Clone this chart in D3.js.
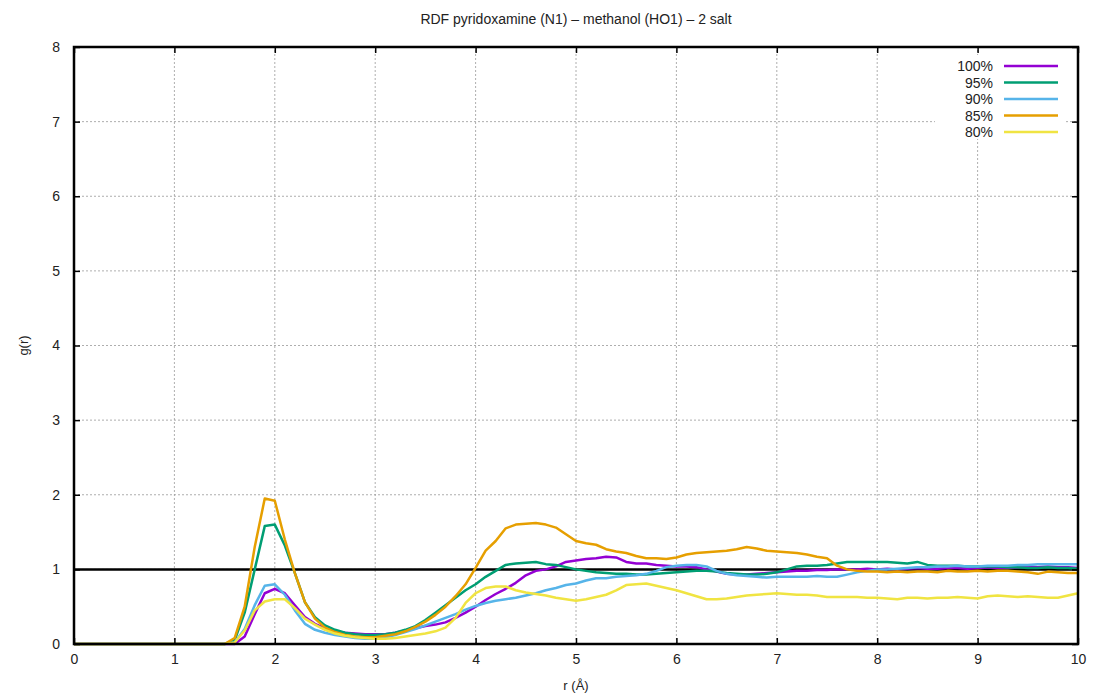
<!DOCTYPE html>
<html>
<head>
<meta charset="utf-8">
<script src="https://cdn.jsdelivr.net/npm/d3@7"></script>
<style>
  body { margin: 0; background: #fff; }
  text { font-family: "Liberation Sans", Arial, sans-serif; fill: #222; }
  .grid line { stroke: #999; stroke-width: 0.8; stroke-dasharray: 2 2; }
</style>
</head>
<body>
<script>
var width = 1094,
    height = 694;

var margin = {top: 47, right: 16, bottom: 50, left: 74};

// r grid (Å), 0.1 step
var rValues = d3.range(0, 101).map(function(i) { return i / 10; });

var labels = ["100%", "95%", "90%", "85%", "80%"];
var colors = ["#9400d3", "#009e73", "#56b4e9", "#e69f00", "#f0e442"];

var g100 = [0,0,0,0,0,0,0,0,0,0,0,0,0,0,0,0,
  0.0,0.1,0.4,0.68,0.74,0.68,0.52,0.36,0.27,0.21,0.17,0.15,0.14,0.13,0.13,
  0.13,0.15,0.18,0.21,0.24,0.26,0.29,0.35,0.42,0.5,
  0.59,0.67,0.74,0.82,0.92,0.98,1.0,1.04,1.1,1.12,
  1.14,1.15,1.17,1.16,1.1,1.08,1.08,1.06,1.05,1.04,
  1.04,1.03,1.0,0.97,0.94,0.93,0.93,0.94,0.95,0.96,
  0.97,0.98,0.98,0.99,0.99,1.0,1.0,1.0,1.01,1.0,
  1.01,1.0,1.01,1.02,1.01,1.01,1.02,1.02,1.01,1.02,
  1.03,1.02,1.02,1.03,1.04,1.03,1.04,1.03,1.03,1.02];

var g95 = [0,0,0,0,0,0,0,0,0,0,0,0,0,0,0,0,
  0.05,0.42,1.0,1.58,1.6,1.32,0.95,0.56,0.36,0.25,0.19,0.15,0.13,0.12,0.12,
  0.13,0.15,0.19,0.24,0.32,0.42,0.52,0.62,0.72,0.8,
  0.9,0.98,1.06,1.08,1.09,1.1,1.07,1.06,1.03,1.0,
  0.98,0.96,0.95,0.94,0.94,0.93,0.93,0.94,0.95,0.96,
  0.97,0.98,0.98,0.97,0.95,0.94,0.93,0.93,0.94,0.96,
  1.0,1.04,1.05,1.05,1.06,1.08,1.1,1.1,1.1,1.1,
  1.1,1.09,1.08,1.1,1.06,1.05,1.05,1.05,1.04,1.04,
  1.04,1.04,1.03,1.03,1.02,1.02,1.03,1.02,1.02,1.01];

var g90 = [0,0,0,0,0,0,0,0,0,0,0,0,0,0,0,0,
  0.02,0.2,0.52,0.78,0.8,0.66,0.45,0.27,0.19,0.15,0.12,0.1,0.08,0.07,0.07,
  0.09,0.12,0.16,0.2,0.25,0.3,0.35,0.4,0.46,0.51,
  0.55,0.58,0.6,0.62,0.65,0.68,0.72,0.75,0.79,0.81,
  0.85,0.88,0.88,0.9,0.91,0.92,0.94,0.98,1.03,1.05,
  1.06,1.06,1.04,0.98,0.94,0.92,0.91,0.9,0.89,0.9,
  0.9,0.9,0.9,0.91,0.9,0.9,0.93,0.96,0.98,1.0,
  1.0,1.01,1.02,1.03,1.03,1.04,1.04,1.05,1.04,1.04,
  1.05,1.05,1.05,1.06,1.06,1.07,1.07,1.07,1.07,1.07];

var g85 = [0,0,0,0,0,0,0,0,0,0,0,0,0,0,0,0,
  0.08,0.5,1.3,1.95,1.92,1.4,0.95,0.56,0.34,0.22,0.16,0.12,0.1,0.09,0.09,
  0.11,0.13,0.17,0.23,0.3,0.39,0.5,0.64,0.8,1.02,
  1.25,1.38,1.55,1.6,1.61,1.62,1.6,1.56,1.47,1.38,
  1.35,1.33,1.27,1.24,1.22,1.18,1.15,1.15,1.14,1.16,
  1.2,1.22,1.23,1.24,1.25,1.27,1.3,1.28,1.25,1.24,
  1.23,1.22,1.2,1.17,1.15,1.05,1.0,0.98,0.97,0.97,
  0.96,0.97,0.96,0.97,0.97,0.96,0.98,0.97,0.97,0.98,
  0.97,0.98,0.98,0.97,0.96,0.94,0.97,0.96,0.95,0.95];

var g80 = [0,0,0,0,0,0,0,0,0,0,0,0,0,0,0,0,
  0.02,0.18,0.45,0.57,0.6,0.6,0.48,0.34,0.26,0.19,0.14,0.11,0.09,0.08,0.07,
  0.07,0.08,0.1,0.12,0.14,0.17,0.22,0.35,0.55,0.68,
  0.75,0.77,0.77,0.72,0.69,0.67,0.65,0.62,0.6,0.58,
  0.6,0.63,0.66,0.72,0.79,0.8,0.81,0.78,0.75,0.72,
  0.68,0.64,0.6,0.6,0.61,0.63,0.65,0.66,0.67,0.68,
  0.67,0.66,0.66,0.65,0.63,0.63,0.63,0.63,0.62,0.62,
  0.61,0.6,0.62,0.62,0.61,0.62,0.62,0.63,0.62,0.61,
  0.64,0.65,0.64,0.63,0.64,0.63,0.62,0.62,0.65,0.68];

var seriesValues = [g100, g95, g90, g85, g80];

var xTicks = d3.range(0, 11);
var yTicks = d3.range(0, 9);

var svg = d3.select("body").append("svg")
    .attr("width", width)
    .attr("height", height);

var x = d3.scaleLinear().domain([0, 10]).range([margin.left, width - margin.right]);
var y = d3.scaleLinear().domain([0, 8]).range([height - margin.bottom, margin.top]);

// grid
var grid = svg.append("g").attr("class", "grid");
grid.selectAll(".vg").data(xTicks.slice(1, -1)).enter().append("line")
    .attr("x1", d => x(d)).attr("x2", d => x(d))
    .attr("y1", y(0)).attr("y2", y(8));
grid.selectAll(".hg").data(yTicks.slice(1, -1)).enter().append("line")
    .attr("x1", x(0)).attr("x2", x(10))
    .attr("y1", d => y(d)).attr("y2", d => y(d));

// reference line g(r)=1
svg.append("line")
    .attr("x1", x(0)).attr("x2", x(10))
    .attr("y1", y(1)).attr("y2", y(1))
    .attr("stroke", "#000").attr("stroke-width", 2.5);

// curves
var line = d3.line()
    .x((d, i) => x(rValues[i]))
    .y(d => y(d));

svg.append("g").selectAll("path").data(seriesValues).enter().append("path")
    .attr("d", line)
    .attr("fill", "none")
    .attr("stroke", (d, i) => colors[i])
    .attr("stroke-width", 2.5)
    .attr("stroke-linejoin", "round");

// legend with opaque box
var leg = svg.append("g");
leg.append("rect")
    .attr("x", 935).attr("y", 55).attr("width", 130).attr("height", 84)
    .attr("fill", "#fff");
labels.forEach(function(l, i) {
  var ly = 66 + i * 16.5;
  leg.append("text")
      .attr("x", 993).attr("y", ly + 5)
      .attr("text-anchor", "end")
      .attr("font-size", 14)
      .text(l);
  leg.append("line")
      .attr("x1", 1004).attr("x2", 1058)
      .attr("y1", ly).attr("y2", ly)
      .attr("stroke", colors[i]).attr("stroke-width", 2.5);
});

// axes, mirrored like gnuplot
var tickLen = 6;
svg.append("g")
    .attr("transform", "translate(0," + y(0) + ")")
    .call(d3.axisBottom(x).tickValues(xTicks).tickSize(-tickLen).tickPadding(10).tickFormat(d3.format("d")))
    .call(g => g.select(".domain").remove())
    .call(g => g.selectAll("line").attr("stroke", "#000").attr("stroke-width", 1.5))
    .call(g => g.selectAll("text").attr("font-size", 14).attr("font-family", "Liberation Sans, Arial, sans-serif").attr("fill", "#222"));
svg.append("g")
    .attr("transform", "translate(0," + y(8) + ")")
    .call(d3.axisTop(x).tickValues(xTicks).tickSize(-tickLen).tickFormat(""))
    .call(g => g.select(".domain").remove())
    .call(g => g.selectAll("line").attr("stroke", "#000").attr("stroke-width", 1.5));
svg.append("g")
    .attr("transform", "translate(" + x(0) + ",0)")
    .call(d3.axisLeft(y).tickValues(yTicks).tickSize(-tickLen).tickPadding(14).tickFormat(d3.format("d")))
    .call(g => g.select(".domain").remove())
    .call(g => g.selectAll("line").attr("stroke", "#000").attr("stroke-width", 1.5))
    .call(g => g.selectAll("text").attr("font-size", 14).attr("font-family", "Liberation Sans, Arial, sans-serif").attr("fill", "#222"));
svg.append("g")
    .attr("transform", "translate(" + x(10) + ",0)")
    .call(d3.axisRight(y).tickValues(yTicks).tickSize(-tickLen).tickFormat(""))
    .call(g => g.select(".domain").remove())
    .call(g => g.selectAll("line").attr("stroke", "#000").attr("stroke-width", 1.5));

// frame
svg.append("rect")
    .attr("x", x(0)).attr("y", y(8))
    .attr("width", x(10) - x(0)).attr("height", y(0) - y(8))
    .attr("fill", "none").attr("stroke", "#000").attr("stroke-width", 2.5);

// titles
svg.append("text")
    .attr("x", (x(0) + x(10)) / 2).attr("y", 24)
    .attr("text-anchor", "middle").attr("font-size", 14)
    .text("RDF pyridoxamine (N1) \u2013 methanol (HO1) \u2013 2 salt");
svg.append("text")
    .attr("x", (x(0) + x(10)) / 2).attr("y", 690)
    .attr("text-anchor", "middle").attr("font-size", 13)
    .text("r (\u00c5)");
svg.append("text")
    .attr("transform", "translate(28," + (y(4)) + ") rotate(-90)")
    .attr("text-anchor", "middle").attr("font-size", 13)
    .text("g(r)");
</script>
</body>
</html>
